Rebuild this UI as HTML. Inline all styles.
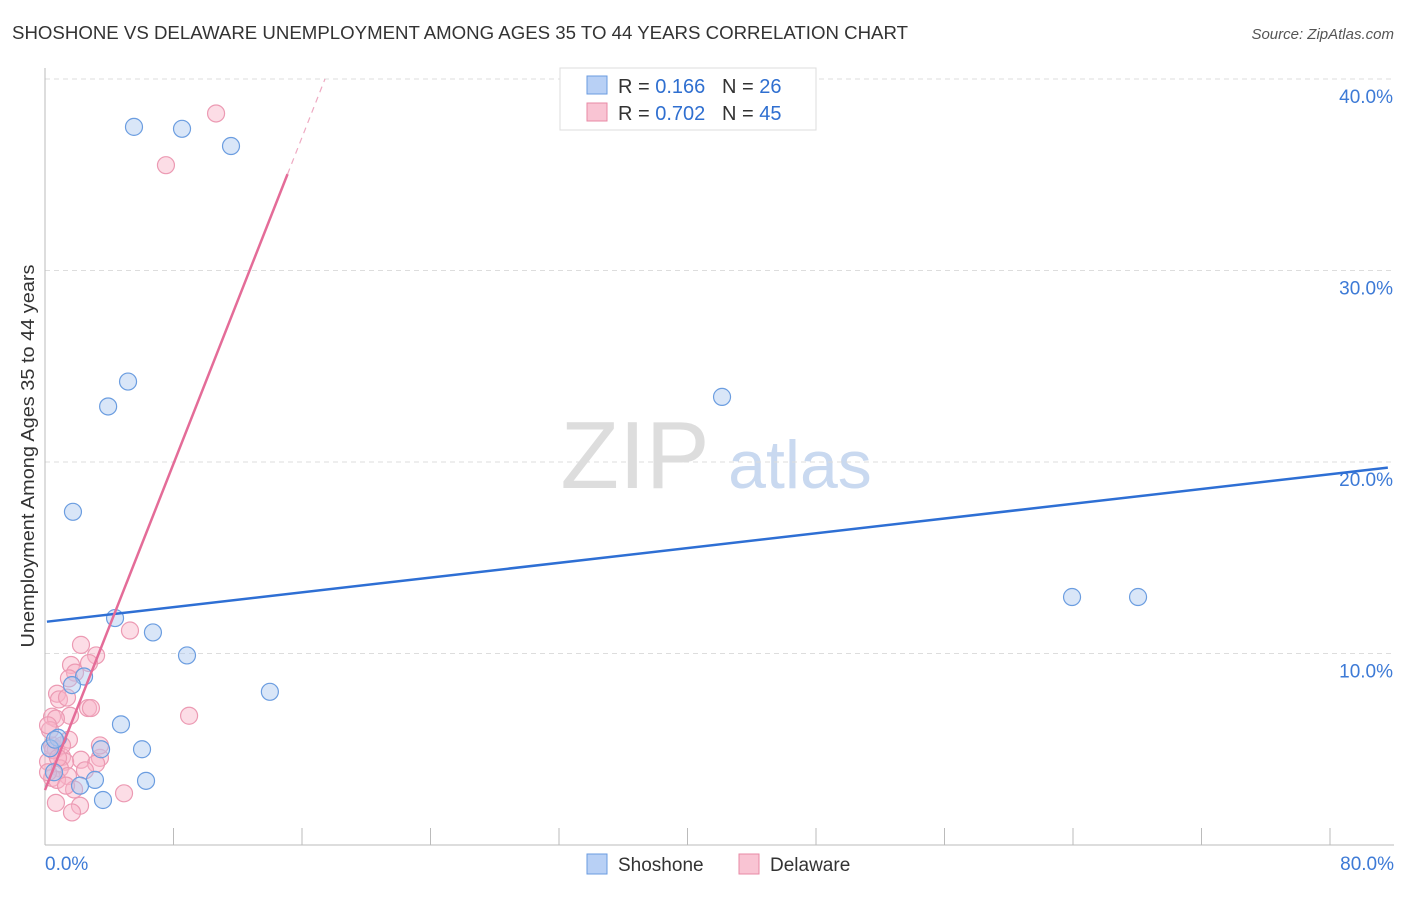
<!DOCTYPE html>
<html><head><meta charset="utf-8"><style>
body{margin:0;background:#fff;font-family:"Liberation Sans",sans-serif}
svg text{font-family:"Liberation Sans",sans-serif}
</style></head><body>
<svg id="c" width="1406" height="892">
<text x="12" y="39" font-size="18.5" fill="#333" textLength="896" lengthAdjust="spacingAndGlyphs">SHOSHONE VS DELAWARE UNEMPLOYMENT AMONG AGES 35 TO 44 YEARS CORRELATION CHART</text>
<text x="1394" y="39" font-size="15" fill="#555" font-style="italic" text-anchor="end">Source: ZipAtlas.com</text>
<text transform="translate(34,456) rotate(-90)" font-size="18" fill="#333" text-anchor="middle" textLength="383" lengthAdjust="spacingAndGlyphs">Unemployment Among Ages 35 to 44 years</text>
<g><text x="635" y="488" font-size="96" fill="#ddd" font-family="Liberation Serif" text-anchor="middle">ZIP</text><text x="800" y="488" font-size="68" fill="#c9d9f0" text-anchor="middle">atlas</text></g>
<g id="grid"></g><g id="axes"></g><g id="pts"></g><g id="lines"></g>
<g>
<rect x="560" y="68" width="256" height="62" fill="#fff" stroke="#ddd"/>
<rect x="587" y="76" width="20" height="18" fill="#b8d0f5" stroke="#6a9be0"/>
<rect x="587" y="103" width="20" height="18" fill="#f9c4d3" stroke="#e88aa6"/>
<text x="618" y="93" font-size="20" fill="#333">R = <tspan fill="#2f6fd0">0.166</tspan>&#160;&#160;&#160;N = <tspan fill="#2f6fd0">26</tspan></text>
<text x="618" y="120" font-size="20" fill="#333">R = <tspan fill="#2f6fd0">0.702</tspan>&#160;&#160;&#160;N = <tspan fill="#2f6fd0">45</tspan></text>
</g>
<g>
<rect x="587" y="854" width="20" height="20" fill="#b8d0f5" stroke="#6a9be0"/>
<text x="618" y="871" font-size="19" fill="#333">Shoshone</text>
<rect x="739" y="854" width="20" height="20" fill="#f9c4d3" stroke="#e88aa6"/>
<text x="770" y="871" font-size="19" fill="#333">Delaware</text>
</g>
</svg>
<script>
const yTicks=[10,20,30,40];
const shoX=[5.54,8.53,11.58,5.17,3.93,42.15,1.74,63.94,68.05,4.36,6.72,8.84,14.0,4.73,3.49,6.04,0.81,0.56,3.11,6.29,2.18,3.61,2.43,1.68,0.31,0.62];
const shoY=[37.5,37.4,36.5,24.2,22.9,23.4,17.4,12.95,12.95,11.85,11.1,9.9,8.0,6.3,5.0,5.0,5.6,3.8,3.4,3.35,3.1,2.35,8.8,8.35,5.05,5.5];
const delX=[10.65,7.53,5.29,2.24,3.18,1.62,2.74,1.87,1.49,0.75,0.87,2.68,2.86,8.97,1.56,0.44,0.68,1.49,0.44,0.68,2.24,3.42,1.06,1.25,0.19,3.18,0.93,1.43,0.44,0.75,1.81,4.92,0.68,2.18,1.68,0.5,0.31,1.06,0.81,0.19,1.31,2.49,0.19,1.37,3.42];
const delY=[38.2,35.5,11.2,10.45,9.9,9.4,9.5,9.0,8.7,7.9,7.6,7.15,7.15,6.75,6.75,6.7,6.6,5.5,5.2,5.0,4.45,4.55,4.6,4.35,4.35,4.25,4.0,3.6,3.5,3.4,2.9,2.7,2.2,2.05,1.7,4.95,6.0,5.2,4.55,3.8,3.1,3.9,6.25,7.7,5.2];
const shoLine=[11.65,0.0964];
const delLine=[2.87,2.13];
const X=v=>45+v/80*1285, Y=v=>845-v*19.15;
const NS='http://www.w3.org/2000/svg';
function mk(p,t,a){const e=document.createElementNS(NS,t);for(const k in a)e.setAttribute(k,a[k]);p.appendChild(e);return e;}
const g=document.getElementById('grid'),ax=document.getElementById('axes');
yTicks.forEach(t=>{
 const l=mk(g,'line',{x1:45,x2:1394,y1:Y(t),y2:Y(t),stroke:'#ddd','stroke-dasharray':'5,4'});
 
 
 const tx=mk(g,'text',{x:1393,y:Y(t)+24,'font-size':19,fill:'#3d7ad6','text-anchor':'end'});tx.textContent=t.toFixed(1)+'%';
 
 
});
mk(ax,'line',{x1:45,x2:45,y1:68,y2:845,stroke:'#bbb'});
mk(ax,'line',{x1:45,x2:1394,y1:845,y2:845,stroke:'#bbb'});
for(let i=0;i<=10;i++){mk(ax,'line',{x1:X(i*8),x2:X(i*8),y1:828,y2:845,stroke:'#bbb'});}
const t0=mk(ax,'text',{x:45,y:870,'font-size':19,fill:'#3d7ad6'});t0.textContent='0.0%';


const t1=mk(ax,'text',{x:1394,y:870,'font-size':19,fill:'#3d7ad6','text-anchor':'end'});t1.textContent='80.0%';


const P=document.getElementById('pts');
delX.forEach((x,i)=>{const c=mk(P,'circle',{cx:X(x),cy:Y(delY[i]),r:8.5,fill:'rgba(248,180,200,0.45)',stroke:'#ec9ab3','stroke-width':1.2});
 
 });
shoX.forEach((x,i)=>{const c=mk(P,'circle',{cx:X(x),cy:Y(shoY[i]),r:8.5,fill:'rgba(170,200,240,0.45)',stroke:'#6b9de0','stroke-width':1.2});
 
 });
const L=document.getElementById('lines');
const bl=mk(L,'line',{x1:X(0.12),y1:Y(shoLine[0]+shoLine[1]*0.12),x2:X(83.6),y2:Y(shoLine[0]+shoLine[1]*83.6),stroke:'#2e6fd4','stroke-width':2.5});


const pl=mk(L,'line',{x1:X(0),y1:Y(delLine[0]),x2:X(15.1),y2:Y(delLine[0]+delLine[1]*15.1),stroke:'#e46c98','stroke-width':2.5});


const xe=(40-delLine[0])/delLine[1];
const pd=mk(L,'line',{x1:X(15.1),y1:Y(delLine[0]+delLine[1]*15.1),x2:X(xe),y2:Y(40),stroke:'#eeaac2','stroke-width':1.2,'stroke-dasharray':'6,5'});


</script>
</body></html>
